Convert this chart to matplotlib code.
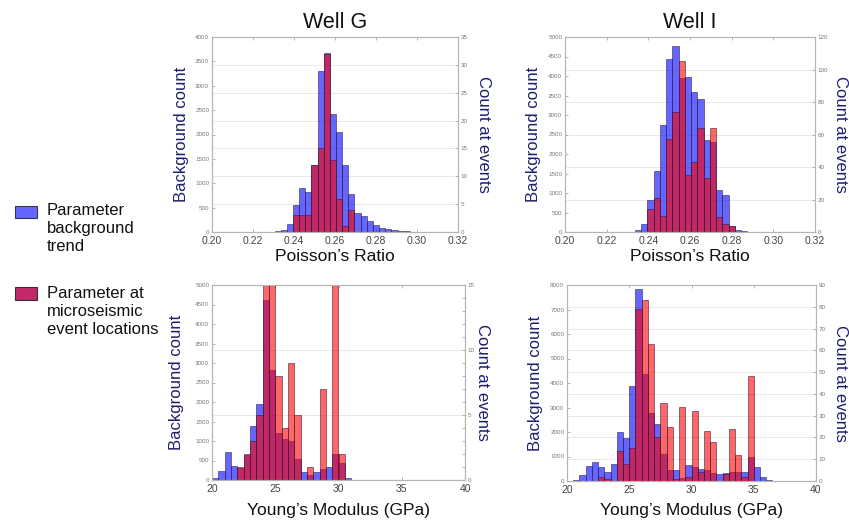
import matplotlib
matplotlib.use("Agg")
import matplotlib.pyplot as plt
from matplotlib.patches import Rectangle
import numpy as np

plt.rcParams['font.family'] = ['Liberation Sans', 'DejaVu Sans']

# ---------------- data ----------------
# Poisson's ratio, Well G (bin left edges, width 0.003)
pr_edges_G = [0.2275, 0.2305, 0.2335, 0.2365, 0.2395, 0.2425, 0.2455, 0.2485,
              0.2515, 0.2545, 0.2575, 0.2605, 0.2635, 0.2665, 0.2695, 0.2725,
              0.2755, 0.2785, 0.2815, 0.2845, 0.2875, 0.2905, 0.2935, 0.2965]
pr_bg_G = [5, 12, 40, 157, 554, 896, 827, 1374, 3310, 3680, 2420, 2044,
           1374, 780, 400, 330, 220, 140, 90, 60, 40, 25, 12, 5]
pr_ev_G = [0, 0, 0, 0, 3, 3, 3, 12, 15, 32, 13, 6, 1, 4, 0, 0,
           0, 0, 0, 0, 0, 0, 0, 0]

# Poisson's ratio, Well I
pr_edges_I = [0.2305, 0.2335, 0.2365, 0.2395, 0.2425, 0.2455, 0.2485, 0.2515,
              0.2545, 0.2575, 0.2605, 0.2635, 0.2665, 0.2695, 0.2725, 0.2755,
              0.2785, 0.2815, 0.2845, 0.2875]
pr_bg_I = [5, 40, 215, 820, 1565, 2745, 4435, 4770, 3960, 3980, 3600, 3410,
           2360, 2320, 1077, 950, 150, 50, 20, 8]
pr_ev_I = [0, 0, 0, 14, 21, 10, 57, 74, 105, 35, 43, 64, 33, 64, 9, 5,
           4, 0, 0, 0]

# Young's modulus, Well G (bin left edges, width 0.5 GPa)
ym_edges_G = [20.0, 20.5, 21.0, 21.5, 22.0, 22.5, 23.0, 23.5, 24.0, 24.5, 25.0,
              25.5, 26.0, 26.5, 27.0, 27.5, 28.0, 28.5, 29.0, 29.5, 30.0, 30.5]
ym_bg_G = [40, 240, 726, 360, 300, 640, 1390, 1940, 4615, 2820, 1210,
           1050, 1000, 540, 214, 130, 197, 274, 325, 660, 444, 60]
ym_ev_G = [0, 0, 0, 0, 1, 2, 3, 5, 17, 17, 8,
           4, 9, 5, 0, 1, 0, 7, 0, 17, 2, 0]

# Young's modulus, Well I
ym_edges_I = [20.5, 21.0, 21.5, 22.0, 22.5, 23.0, 23.5, 24.0, 24.5, 25.0, 25.5,
              26.0, 26.5, 27.0, 27.5, 28.0, 28.5, 29.0, 29.5, 30.0, 30.5, 31.0,
              31.5, 32.0, 32.5, 33.0, 33.5, 34.0, 34.5, 35.0, 35.5, 36.0]
ym_bg_I = [30, 245, 612, 789, 585, 381, 694, 2014, 1741, 3878, 7823,
           4367, 2789, 2327, 1102, 449, 449, 120, 653, 585, 476, 449,
           340, 286, 340, 381, 381, 381, 993, 558, 177, 41]
ym_ev_I = [0, 0, 0, 0, 2, 1, 0, 14, 8, 15, 79,
           83, 63, 20, 36, 25, 1, 34, 2, 32, 4, 23,
           18, 0, 3, 24, 12, 2, 48, 0, 0, 0]

pr_ticks = [0.20, 0.22, 0.24, 0.26, 0.28, 0.30, 0.32]
pr_ticklabels = ["0.20", "0.22", "0.24", "0.26", "0.28", "0.30", "0.32"]
ym_ticks = [20, 25, 30, 35, 40]
ym_ticklabels = ["20", "25", "30", "35", "40"]

# ---------------- styling ----------------
W, H = 849, 523
fig = plt.figure(figsize=(W / 100, H / 100), dpi=100)

BLUE = (0.0, 0.0, 1.0, 0.6)
RED = (1.0, 0.0, 0.0, 0.6)
EDGE = (0.15, 0.1, 0.25, 0.75)
NAVY = '#1e1e6e'
SPINE = '#b5b5b5'


def px_rect(x0, x1, ytop, ybot):
    return [x0 / W, 1 - ybot / H, (x1 - x0) / W, (ybot - ytop) / H]


def panel(rect, edges, width, bg, ev, xlim, xticks, xticklabels, ylim1, yticks1,
          ylim2, yticks2, xlabel, ylab_x, ylab2_x, xlab_y, minor2=None):
    ax = fig.add_axes(rect)
    ax2 = ax.twinx()
    # faint grid at right-axis ticks
    for v in yticks2[1:-1]:
        ax.axhline(v * ylim1 / ylim2, color='#e9e9e9', lw=0.7, zorder=0)
    ax.bar(edges, bg, width=width, align='edge', color=BLUE, edgecolor=EDGE,
           linewidth=0.5, zorder=2)
    ax2.bar(edges, ev, width=width, align='edge', color=RED, edgecolor=EDGE,
            linewidth=0.5, zorder=2)
    ax.set_xlim(*xlim)
    ax.set_ylim(0, ylim1)
    ax2.set_ylim(0, ylim2)
    ax.set_xticks(xticks)
    ax.set_xticklabels(xticklabels)
    ax.set_yticks(yticks1)
    ax.set_yticklabels([str(t) for t in yticks1])
    ax2.set_yticks(yticks2)
    ax2.set_yticklabels([str(t) for t in yticks2])
    if minor2 is not None:
        ax2.set_yticks(minor2, minor=True)
    for a in (ax, ax2):
        for s in a.spines.values():
            s.set_color(SPINE)
            s.set_linewidth(0.8)
    ax.tick_params(axis='x', direction='in', length=2.5, width=0.5, color='#999999',
                   labelsize=7.5, labelcolor='#444444', pad=3, top=True)
    ax.tick_params(axis='y', direction='in', length=2.5, width=0.5, color='#999999',
                   labelsize=4.5, labelcolor='#777777', pad=2)
    ax2.tick_params(axis='y', which='both', direction='in', length=2.5, width=0.5,
                    color='#999999', labelsize=4.5, labelcolor='#777777', pad=2)
    ax.set_xlabel(xlabel, fontsize=12.5, color='#111111')
    ax.xaxis.set_label_coords(0.5, xlab_y)
    ax.xaxis.label.set_va('center')
    ax.set_ylabel('Background count', fontsize=12, color=NAVY)
    ax.yaxis.set_label_coords(ylab_x, 0.5)
    ax.yaxis.label.set_va('center')
    ax2.set_ylabel('Count at events', fontsize=12, color=NAVY, rotation=270)
    ax2.yaxis.set_label_coords(ylab2_x, 0.5)
    ax2.yaxis.label.set_va('center')
    return ax, ax2


# Top-left: Well G Poisson
panel(px_rect(212, 458, 37, 232), pr_edges_G, 0.003, pr_bg_G, pr_ev_G,
      (0.20, 0.32), pr_ticks, pr_ticklabels,
      4000, list(range(0, 4001, 500)), 35, list(range(0, 36, 5)),
      'Poisson’s Ratio', -0.125, 1.105, -0.125)

# Top-right: Well I Poisson
panel(px_rect(565, 815, 37, 232), pr_edges_I, 0.003, pr_bg_I, pr_ev_I,
      (0.20, 0.32), pr_ticks, pr_ticklabels,
      5000, list(range(0, 5001, 500)), 120, list(range(0, 121, 20)),
      'Poisson’s Ratio', -0.125, 1.10, -0.125)

# Bottom-left: Well G Young's
panel(px_rect(212, 465, 285, 480), ym_edges_G, 0.5, ym_bg_G, ym_ev_G,
      (20, 40), ym_ticks, ym_ticklabels,
      5000, list(range(0, 5001, 500)), 15, [0, 5, 10, 15],
      'Young’s Modulus (GPa)', -0.14, 1.07, -0.154, minor2=list(range(0, 16)))

# Bottom-right: Well I Young's
panel(px_rect(567, 816, 285, 481), ym_edges_I, 0.5, ym_bg_I, ym_ev_I,
      (20, 40), ym_ticks, ym_ticklabels,
      8000, list(range(0, 8001, 1000)), 90, list(range(0, 91, 10)),
      'Young’s Modulus (GPa)', -0.128, 1.10, -0.15)

# Titles
fig.text(335 / W, 1 - 22 / H, 'Well G', fontsize=15.5, ha='center', va='center', color='#111111')
fig.text(690 / W, 1 - 22 / H, 'Well I', fontsize=15.5, ha='center', va='center', color='#111111')

# Legend
fig.patches.append(Rectangle((15 / W, 1 - 218 / H), 22 / W, 12 / H, transform=fig.transFigure,
                             facecolor='#6666ff', edgecolor='#333355', linewidth=0.8))
fig.patches.append(Rectangle((15 / W, 1 - 300 / H), 22 / W, 13 / H, transform=fig.transFigure,
                             facecolor='#c2296a', edgecolor='#333333', linewidth=0.8))
fig.text(47 / W, 1 - 203 / H, 'Parameter\nbackground\ntrend', fontsize=12, ha='left', va='top',
         linespacing=1.25, color='#111111')
fig.text(47 / W, 1 - 286 / H, 'Parameter at\nmicroseismic\nevent locations', fontsize=12,
         ha='left', va='top', linespacing=1.25, color='#111111')

fig.savefig('out.png', dpi=100)
